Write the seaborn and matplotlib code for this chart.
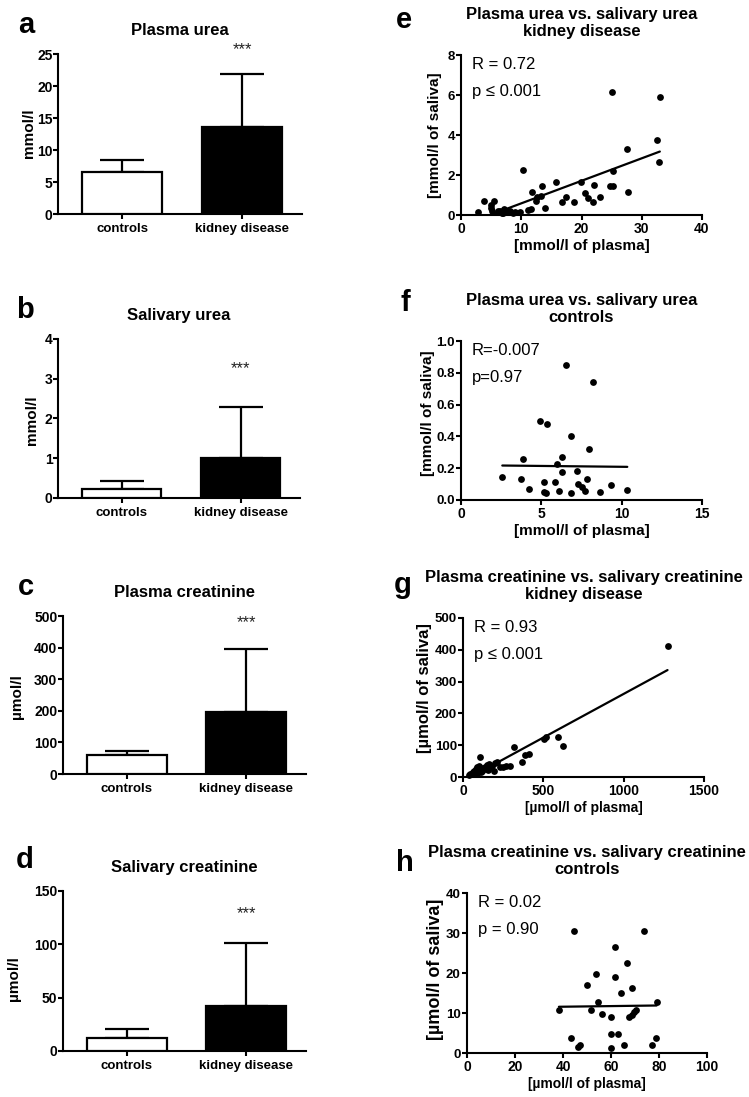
import numpy as np
import pandas as pd
import matplotlib
matplotlib.use("Agg")
import matplotlib.pyplot as plt
import seaborn as sns

# ---------------- data ----------------
groups = ["controls", "kidney disease"]

plasma_urea_mean = [6.5, 13.6]
plasma_urea_sd = [1.9, 8.3]
saliva_urea_mean = [0.23, 1.0]
saliva_urea_sd = [0.2, 1.29]
plasma_creat_mean = [61, 195]
plasma_creat_sd = [11, 200]
saliva_creat_mean = [12.0, 42.5]
saliva_creat_sd = [8.3, 58.5]

e_plasma = [2.8, 3.8, 4.9, 5.0, 5.5, 5.2, 6.1, 6.5, 7.2, 7.6, 8.1, 9.0, 9.8, 10.3, 11.2,
            11.7, 11.8, 12.4, 12.6, 13.4, 13.3, 13.9, 15.8, 16.7, 17.4, 18.8, 19.9, 20.5,
            21.0, 21.9, 22.1, 23.1, 24.8, 25.3, 25.0, 25.3, 27.6, 27.7, 32.5, 32.9, 33.0,
            6.8, 8.6, 7.0]
e_saliva = [0.15, 0.72, 0.48, 0.35, 0.72, 0.18, 0.22, 0.18, 0.30, 0.22, 0.18, 0.15, 0.15,
            2.26, 0.25, 0.30, 1.15, 0.70, 0.90, 1.46, 0.97, 0.37, 1.66, 0.65, 0.88, 0.63,
            1.63, 1.08, 0.87, 0.63, 1.50, 0.90, 1.45, 1.46, 6.16, 2.21, 3.29, 1.13, 3.73,
            2.63, 5.90, 0.12, 0.10, 0.08]

f_plasma = [2.57, 3.71, 3.86, 4.23, 4.90, 5.35, 5.15, 5.31, 5.19, 5.83, 5.98, 6.08, 6.27,
            6.31, 6.56, 6.87, 6.87, 7.24, 7.28, 7.53, 7.72, 7.87, 7.95, 8.19, 8.67, 9.34,
            10.35]
f_saliva = [0.145, 0.13, 0.256, 0.071, 0.499, 0.476, 0.052, 0.042, 0.113, 0.111, 0.224,
            0.055, 0.174, 0.268, 0.849, 0.403, 0.046, 0.182, 0.10, 0.084, 0.059, 0.134,
            0.323, 0.74, 0.052, 0.094, 0.061]

g_plasma = [40, 45, 55, 60, 65, 70, 75, 80, 85, 90, 95, 100, 104, 110, 115, 120, 130, 140,
            150, 155, 160, 170, 180, 190, 200, 210, 230, 250, 270, 290, 318, 368, 389, 409,
            503, 519, 594, 621, 1273]
g_saliva = [5, 10, 8, 15, 12, 20, 18, 25, 10, 30, 22, 35, 64, 15, 28, 20, 25, 30, 38, 22,
            40, 30, 35, 18, 45, 48, 30, 32, 34, 34, 95, 47, 69, 73, 120, 126, 125, 97, 412]

h_plasma = [38.3, 43.5, 44.7, 46.3, 47.1, 50.0, 51.8, 53.9, 54.7, 56.25, 59.9, 59.9, 59.9,
            61.5, 61.8, 62.9, 64.3, 65.6, 66.7, 67.6, 68.9, 68.6, 69.4, 70.6, 73.6, 77.2,
            78.75, 79.0]
h_saliva = [10.8, 3.8, 30.5, 1.5, 2.0, 17.0, 10.8, 19.8, 12.75, 9.75, 9.1, 4.75, 1.33, 18.9,
            26.4, 4.75, 15.0, 2.0, 22.5, 9.1, 16.25, 9.6, 10.25, 10.8, 30.5, 2.0, 3.8, 12.8]

# ---------------- style ----------------
sns.set_theme(style="ticks")
plt.rcParams["font.family"] = ["Liberation Sans", "DejaVu Sans"]
plt.rcParams["axes.linewidth"] = 1.5
plt.rcParams["xtick.major.width"] = 1.5
plt.rcParams["ytick.major.width"] = 1.5
plt.rcParams["xtick.major.size"] = 3.5
plt.rcParams["ytick.major.size"] = 3.5
plt.rcParams["axes.edgecolor"] = "black"
plt.rcParams["xtick.color"] = "black"
plt.rcParams["ytick.color"] = "black"
plt.rcParams["text.color"] = "black"
plt.rcParams["axes.labelcolor"] = "black"
plt.rcParams["axes.titlecolor"] = "black"

W, H = 749, 1097
fig = plt.figure(figsize=(W / 100, H / 100), dpi=100)


def px_axes(x0, x1, ytop, ybot):
    return fig.add_axes([x0 / W, 1 - ybot / H, (x1 - x0) / W, (ybot - ytop) / H])


def style_axes(ax):
    sns.despine(ax=ax)
    for lab in ax.get_xticklabels() + ax.get_yticklabels():
        lab.set_fontweight("bold")
        lab.set_color("black")


def bar_panel(ax, means, sds, ymax, ystep, title, ylabel, star_y, lab_xy, fmt="{:g}"):
    df = pd.DataFrame({"group": groups, "value": means})
    sns.barplot(data=df, x="group", y="value", hue="group",
                palette={"controls": "white", "kidney disease": "black"},
                edgecolor="black", linewidth=1.6, width=0.67, legend=False, ax=ax,
                zorder=3)
    ax.errorbar(x=[0, 1], y=means, yerr=[[0, 0], sds], fmt="none", ecolor="black",
                elinewidth=1.6, capsize=15.5, capthick=1.6, zorder=2)
    ax.set_xlim(-0.535, 1.5)
    ax.set_ylim(0, ymax)
    ticks = np.arange(0, ymax + ystep / 2, ystep)
    ax.set_yticks(ticks)
    ax.set_yticklabels([fmt.format(t) for t in ticks])
    ax.set_xlabel("")
    ax.set_ylabel(ylabel, fontsize=11, fontweight="bold")
    ax.yaxis.set_label_coords(*lab_xy)
    ax.set_title(title, fontsize=12, fontweight="bold", pad=14)
    ax.tick_params(axis="x", labelsize=9.5, pad=3)
    ax.tick_params(axis="y", labelsize=10, pad=0.5)
    ax.text(1, star_y, "***", ha="center", va="center", fontsize=12, color="#222222",
            clip_on=False)
    style_axes(ax)


def scatter_panel(ax, x, y, xmax, xstep, ymax, ystep, title, xlabel, ylabel, rtxt, ptxt,
                  lab_xy, xlab_size=11, ylab_size=11, yfmt="{:g}"):
    df = pd.DataFrame({"x": x, "y": y})
    sns.scatterplot(data=df, x="x", y="y", color="black", s=24, edgecolor="black",
                    linewidth=0, ax=ax, clip_on=False, zorder=3)
    sns.regplot(data=df, x="x", y="y", scatter=False, ci=None, truncate=True,
                line_kws={"color": "black", "linewidth": 1.6}, ax=ax)
    ax.set_xlim(0, xmax)
    ax.set_ylim(0, ymax)
    xt = np.arange(0, xmax + xstep / 2, xstep)
    yt = np.arange(0, ymax + ystep / 2, ystep)
    ax.set_xticks(xt)
    ax.set_xticklabels(["{:g}".format(t) for t in xt])
    ax.set_yticks(yt)
    ax.set_yticklabels([yfmt.format(t) for t in yt])
    ax.set_xlabel(xlabel, fontsize=xlab_size, fontweight="bold", labelpad=2)
    ax.set_ylabel(ylabel, fontsize=ylab_size, fontweight="bold")
    ax.yaxis.set_label_coords(*lab_xy)
    ax.set_title(title, fontsize=12, fontweight="bold", pad=14, linespacing=1.1)
    ax.tick_params(axis="x", labelsize=10, pad=1.5)
    ax.tick_params(axis="y", labelsize=9.5, pad=1)
    ax.text(0.045, 0.985, rtxt, transform=ax.transAxes, ha="left", va="top", fontsize=12)
    ax.text(0.045, 0.82, ptxt, transform=ax.transAxes, ha="left", va="top", fontsize=12)
    style_axes(ax)


ax_a = px_axes(58, 302, 54, 214)
bar_panel(ax_a, plasma_urea_mean, plasma_urea_sd, 25, 5, "Plasma urea", "mmol/l", 25.7,
          (-0.092, 0.506))
ax_b = px_axes(58, 300, 339, 498)
bar_panel(ax_b, saliva_urea_mean, saliva_urea_sd, 4, 1, "Salivary urea", "mmol/l", 3.26,
          (-0.078, 0.49))
ax_c = px_axes(63, 306, 616, 774)
bar_panel(ax_c, plasma_creat_mean, plasma_creat_sd, 500, 100, "Plasma creatinine",
          "µmol/l", 479, (-0.16, 0.49))
ax_d = px_axes(63, 306, 891, 1051)
bar_panel(ax_d, saliva_creat_mean, saliva_creat_sd, 150, 50, "Salivary creatinine",
          "µmol/l", 128.7, (-0.173, 0.45))

ax_e = px_axes(461, 702, 55, 215)
scatter_panel(ax_e, e_plasma, e_saliva, 40, 10, 8, 2,
              "Plasma urea vs. salivary urea\nkidney disease",
              "[mmol/l of plasma]", "[mmol/l of saliva]", "R = 0.72", "p ≤ 0.001",
              (-0.078, 0.5))
ax_f = px_axes(461, 702, 341, 500)
scatter_panel(ax_f, f_plasma, f_saliva, 15, 5, 1.0, 0.2,
              "Plasma urea vs. salivary urea\ncontrols",
              "[mmol/l of plasma]", "[mmol/l of saliva]", "R=-0.007", "p=0.97",
              (-0.108, 0.547), yfmt="{:.1f}")
ax_g = px_axes(463, 704, 618, 777)
scatter_panel(ax_g, g_plasma, g_saliva, 1500, 500, 500, 100,
              "Plasma creatinine vs. salivary creatinine\nkidney disease",
              "[µmol/l of plasma]", "[µmol/l of saliva]", "R = 0.93", "p ≤ 0.001",
              (-0.13, 0.56), xlab_size=10, ylab_size=12)
ax_h = px_axes(467, 707, 893, 1053)
scatter_panel(ax_h, h_plasma, h_saliva, 100, 20, 40, 10,
              "Plasma creatinine vs. salivary creatinine\ncontrols",
              "[µmol/l of plasma]", "[µmol/l of saliva]", "R = 0.02", "p = 0.90",
              (-0.095, 0.525), xlab_size=10, ylab_size=13)

# panel letters
for letter, (lx, ly) in {"a": (26, 25), "b": (25, 310), "c": (26, 587), "d": (25, 860),
                         "e": (404, 20), "f": (405, 303), "g": (403, 585),
                         "h": (405, 863)}.items():
    fig.text(lx / W, 1 - ly / H, letter, fontsize=21, fontweight="bold",
             ha="center", va="center")

fig.savefig("out.png", dpi=100)
